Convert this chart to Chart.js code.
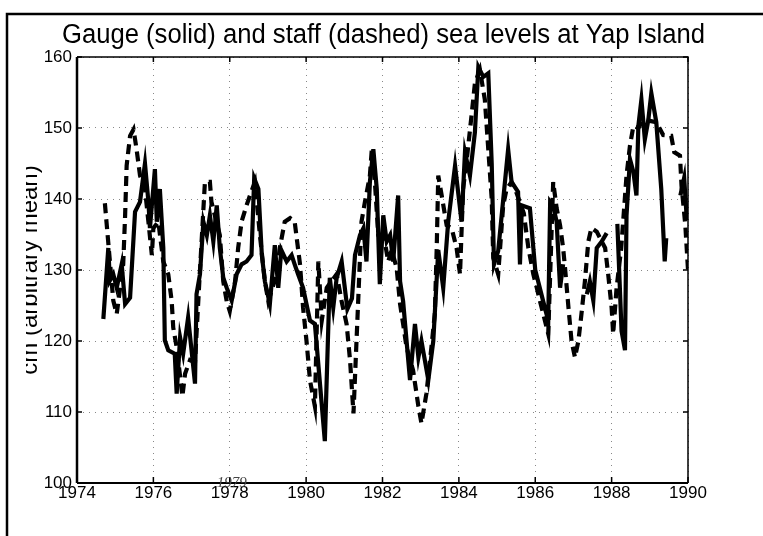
<!DOCTYPE html>
<html>
<head>
<meta charset="utf-8">
<script src="https://cdn.jsdelivr.net/npm/chart.js@4.4.1/dist/chart.umd.min.js"></script>
<style>
  html, body { margin: 0; padding: 0; background: #fff; }
  #wrap { width: 763px; height: 536px; position: relative; }
</style>
</head>
<body>
<div id="wrap"><canvas id="c"></canvas></div>
<script>
// ---- Data (decimal years, cm) ----
const titleText = "Gauge (solid) and staff (dashed) sea levels at Yap Island";
const yAxisLabel = "cm (arbitrary mean)";
const xTickValues = [1974, 1976, 1978, 1980, 1982, 1984, 1986, 1988, 1990];
const yTickValues = [100, 110, 120, 130, 140, 150, 160];

// Gauge (solid line); null marks a gap in the record
const gaugeYears = [
  1974.69, 1974.82, 1974.86, 1974.95, 1975.04, 1975.17, 1975.26, 1975.39, 1975.52, 1975.65,
  1975.78, 1975.87, 1975.91, 1976.04, 1976.09, 1976.17, 1976.26, 1976.30, 1976.39, 1976.56,
  1976.61, 1976.70, 1976.78, 1976.91, 1977.09, 1977.13, 1977.22, 1977.31, 1977.40, 1977.48,
  1977.57, 1977.66, 1977.74, 1977.83, 1977.92, 1978.05, 1978.18, 1978.31, 1978.44, 1978.57,
  1978.64, 1978.75, 1978.84, 1978.92, 1979.05, 1979.18, 1979.27, 1979.35, 1979.49, 1979.62,
  1979.70, 1979.79, 1979.92, 1980.10, 1980.23, 1980.49, 1980.62, 1980.71, 1980.80, 1980.93,
  1981.08, 1981.20, 1981.28, 1981.41, 1981.50, 1981.58, 1981.67, 1981.76, 1981.85, 1981.93,
  1982.02, 1982.11, 1982.20, 1982.28, 1982.41, 1982.46, 1982.54, 1982.63, 1982.72, 1982.85,
  1982.94, 1983.02, 1983.20, 1983.33, 1983.46, 1983.59, 1983.72, 1983.90, 1984.07, 1984.16,
  1984.29, 1984.42, 1984.51, 1984.64, 1984.77, 1984.86, 1984.92, 1985.03, 1985.29, 1985.38,
  1985.55, 1985.60, 1985.65, 1985.86, 1986.00, 1986.25, 1986.34, 1986.39, 1986.47, 1986.56,
  1986.65, 1986.73, 1987.00, 1987.35, 1987.43, 1987.52, 1987.61, 1987.74, 1987.87, 1988.00,
  1988.15, 1988.26, 1988.35, 1988.39, 1988.48, 1988.57, 1988.65, 1988.70, 1988.78, 1988.87,
  1988.96, 1989.04, 1989.17, 1989.30, 1989.39, 1989.43, 1989.60, 1989.80, 1989.90, 1989.97
];
const gaugeValues = [
  123.1, 133.1, 128.5, 129.4, 127.5, 130.8, 125.2, 126.1, 138.2, 139.6,
  145.0, 139.6, 135.9, 144.2, 136.8, 141.4, 133.1, 120.1, 118.7, 118.2,
  112.6, 120.5, 118.2, 123.3, 114.0, 126.6, 129.4, 136.8, 134.9, 137.7,
  134.0, 139.1, 133.1, 128.9, 127.5, 125.7, 129.4, 130.8, 131.2, 132.1,
  142.9, 141.4, 132.1, 128.4, 125.2, 133.5, 127.5, 132.8, 131.2, 132.1,
  130.8, 129.4, 127.5, 122.9, 122.4, 105.9, 128.9, 124.7, 128.9, 131.2,
  124.5, 126.0, 132.1, 134.9, 135.9, 131.2, 142.4, 147.0, 141.4, 128.0,
  137.7, 134.0, 134.9, 131.2, 140.5, 128.4, 125.6, 120.0, 114.5, 122.4,
  117.7, 120.0, 114.5, 120.0, 132.8, 127.5, 136.8, 144.7, 136.8, 146.6,
  143.3, 149.4, 158.6, 157.2, 157.7, 145.0, 130.8, 132.7, 147.0, 142.4,
  141.0, 130.8, 139.1, 138.7, 130.0, 124.7, 122.9, 139.6, 139.0, 136.8,
  127.5, 130.8, null,  126.6, 128.4, 125.7, 133.1, 134.0, 135.2, null,
  136.5, 121.4, 118.7, 137.7, 145.6, 143.8, 140.5, 150.3, 154.0, 148.4,
  151.1, 154.9, 150.8, 141.4, 131.2, 134.5, null,  140.5, 143.0, 137.0
];

// Staff (dashed line)
const staffYears = [
  1974.73, 1974.86, 1974.95, 1975.04, 1975.21, 1975.26, 1975.30, 1975.39, 1975.48, 1975.56,
  1975.65, 1975.78, 1975.87, 1975.96, 1976.00, 1976.13, 1976.26, 1976.39, 1976.48, 1976.52,
  1976.61, 1976.70, 1976.76, 1976.83, 1976.96, 1977.09, 1977.20, 1977.35, 1977.48, 1977.52,
  1977.74, 1977.83, 1977.92, 1978.00, 1978.14, 1978.22, 1978.31, 1978.44, 1978.53, 1978.66,
  1978.79, 1978.92, 1979.01, 1979.23, 1979.31, 1979.44, 1979.58, 1979.70, 1979.84, 1979.92,
  1980.01, 1980.10, 1980.23, 1980.32, 1980.41, 1980.54, 1980.80, 1980.93, 1981.06, 1981.15,
  1981.24, 1981.45, 1981.54, 1981.67, 1981.72, 1981.80, 1981.89, 1982.06, 1982.15, 1982.24,
  1982.37, 1982.46, 1982.54, 1982.63, 1982.80, 1982.94, 1983.02, 1983.15, 1983.28, 1983.37,
  1983.42, 1983.46, 1983.55, 1983.68, 1983.81, 1983.94, 1984.03, 1984.11, 1984.20, 1984.33,
  1984.42, 1984.55, 1984.68, 1984.77, 1984.86, 1984.90, 1985.03, 1985.16, 1985.25, 1985.38,
  1985.50, 1985.70, 1985.82, 1985.95, 1986.04, 1986.12, 1986.21, 1986.34, 1986.47, 1986.56,
  1986.65, 1986.73, 1986.78, 1986.87, 1986.95, 1987.04, 1987.13, 1987.21, 1987.30, 1987.39,
  1987.47, 1987.61, 1987.83, 1987.91, 1988.00, 1988.04, 1988.13, 1988.25, 1988.39, 1988.48,
  1988.57, 1988.70, 1988.83, 1989.00, 1989.17, 1989.35, 1989.56, 1989.64, 1989.79, 1989.83,
  1989.93, 1990.00
];
const staffValues = [
  139.4, 131.3, 125.7, 123.8, 130.8, 137.7, 144.7, 148.9, 149.8, 147.0,
  143.3, 141.4, 136.8, 132.1, 135.9, 136.8, 131.2, 129.4, 125.6, 121.9,
  119.1, 115.0, 112.2, 115.4, 117.3, 117.0, 128.0, 142.4, 142.4, 139.6,
  134.9, 128.4, 125.6, 124.2, 128.4, 133.1, 136.8, 139.1, 140.5, 142.4,
  134.9, 128.4, 125.6, 129.4, 133.1, 136.8, 137.3, 136.8, 130.8, 124.7,
  120.0, 114.5, 110.8, 131.2, 122.9, 127.5, 129.4, 125.6, 122.4, 117.3,
  109.8, 136.8, 139.6, 143.3, 147.0, 142.4, 134.9, 134.0, 131.2, 132.8,
  130.3, 125.2, 122.4, 119.1, 115.9, 110.8, 108.4, 112.6, 119.1, 123.8,
  133.1, 143.3, 140.5, 136.3, 135.9, 133.1, 129.4, 141.4, 145.2, 151.7,
  156.3, 158.2, 154.0, 147.0, 140.0, 131.7, 129.4, 139.1, 141.4, 142.4,
  141.0, 138.0, 133.1, 129.4, 127.5, 125.7, 123.8, 121.0, 142.4, 138.7,
  136.3, 133.1, 130.3, 124.7, 120.0, 117.7, 120.0, 123.8, 128.4, 134.0,
  135.9, 135.4, 133.1, 129.4, 124.7, 121.0, 127.5, 133.0, 143.3, 147.5,
  150.3, 150.0, 151.2, 151.0, 150.8, 149.0, 148.9, 146.6, 146.1, 141.9,
  136.3, 130.0
];

const toPoints = (xs, ys) => xs.map((x, i) => ({ x: x, y: ys[i] }));

const PLOT = { left: 77, right: 688, top: 57, bottom: 483 };
const W = 763, H = 536;

const decorPlugin = {
  id: 'decor',
  beforeDraw(chart) {
    const ctx = chart.ctx;
    ctx.save();
    ctx.fillStyle = '#fff';
    ctx.fillRect(0, 0, W, H);
    ctx.restore();
  },
  afterDraw(chart) {
    const ctx = chart.ctx;
    const ca = chart.chartArea;
    const xs = chart.scales.x, ys = chart.scales.y;
    ctx.save();
    // outer frame (left + top)
    ctx.strokeStyle = '#000';
    ctx.lineWidth = 2.5;
    ctx.beginPath();
    ctx.moveTo(7, H);
    ctx.lineTo(7, 14);
    ctx.lineTo(W, 14);
    ctx.stroke();

    // plot box
    ctx.lineWidth = 1.5;
    ctx.beginPath();
    ctx.moveTo(ca.left, ca.top);
    ctx.lineTo(ca.right, ca.top);
    ctx.lineTo(ca.right, ca.bottom);
    ctx.stroke();
    ctx.lineWidth = 2.5;
    ctx.beginPath();
    ctx.moveTo(ca.left, ca.top);
    ctx.lineTo(ca.left, ca.bottom);
    ctx.stroke();
    ctx.lineWidth = 1.8;
    ctx.beginPath();
    ctx.moveTo(ca.left, ca.bottom);
    ctx.lineTo(ca.right, ca.bottom);
    ctx.stroke();

    // inward tick marks
    ctx.lineWidth = 1.5;
    ctx.beginPath();
    yTickValues.forEach(v => {
      const py = ys.getPixelForValue(v);
      ctx.moveTo(ca.left, py); ctx.lineTo(ca.left + 5, py);
      ctx.moveTo(ca.right, py); ctx.lineTo(ca.right - 5, py);
    });
    xTickValues.forEach(v => {
      const px = xs.getPixelForValue(v);
      ctx.moveTo(px, ca.bottom); ctx.lineTo(px, ca.bottom - 6);
      ctx.moveTo(px, ca.top); ctx.lineTo(px, ca.top + 5);
    });
    ctx.stroke();

    // title
    ctx.fillStyle = '#000';
    ctx.font = '27px "Liberation Sans", Arial, sans-serif';
    ctx.textAlign = 'left';
    ctx.textBaseline = 'alphabetic';
    const tw = ctx.measureText(titleText).width;
    const target = 643;
    const sx = target / tw;
    ctx.save();
    ctx.translate(62, 43);
    ctx.scale(sx, 1);
    ctx.fillText(titleText, 0, 0);
    ctx.restore();

    // y-axis label (rotated, left part clipped as in the scan)
    ctx.save();
    ctx.beginPath();
    ctx.rect(26, 0, 60, H);
    ctx.clip();
    ctx.translate(37, 270);
    ctx.rotate(-Math.PI / 2);
    ctx.font = '24px "Liberation Sans", Arial, sans-serif';
    ctx.textAlign = 'center';
    ctx.textBaseline = 'alphabetic';
    ctx.fillText(yAxisLabel, 0, 0);
    ctx.restore();

    // faint overprinted label from the scan above 1978
    ctx.font = 'italic 15px "Liberation Serif", serif';
    ctx.fillStyle = '#444';
    ctx.textAlign = 'center';
    ctx.textBaseline = 'middle';
    ctx.fillText('1979', xs.getPixelForValue(1978) + 2, 483);
    ctx.restore();
  }
};

new Chart(document.getElementById('c'), {
  type: 'line',
  data: {
    datasets: [
      {
        label: 'Gauge',
        data: toPoints(gaugeYears, gaugeValues),
        borderColor: '#000',
        borderWidth: 4.2,
        pointRadius: 0,
        tension: 0,
        spanGaps: false,
        fill: false
      },
      {
        label: 'Staff',
        data: toPoints(staffYears, staffValues),
        borderColor: '#000',
        borderWidth: 4.2,
        borderDash: [10, 6],
        pointRadius: 0,
        tension: 0,
        spanGaps: false,
        fill: false
      }
    ]
  },
  options: {
    responsive: true,
    maintainAspectRatio: false,
    animation: false,
    events: [],
    layout: { padding: { left: 0, top: PLOT.top, right: W - PLOT.right, bottom: 0 } },
    plugins: {
      legend: { display: false },
      title: { display: false },
      tooltip: { enabled: false }
    },
    scales: {
      x: {
        type: 'linear',
        min: 1974,
        max: 1990,
        afterFit(scale) { scale.height = H - PLOT.bottom; },
        afterBuildTicks(scale) { scale.ticks = xTickValues.map(v => ({ value: v })); },
        ticks: {
          color: '#000',
          font: { family: '"Liberation Sans", Arial, sans-serif', size: 17 },
          padding: 0,
          maxRotation: 0,
          autoSkip: false,
          callback: v => String(v)
        },
        grid: {
          color: '#888',
          lineWidth: 1,
          drawTicks: false
        },
        border: { display: false, dash: [1, 5] }
      },
      y: {
        type: 'linear',
        min: 100,
        max: 160,
        afterFit(scale) { scale.width = PLOT.left; },
        afterBuildTicks(scale) { scale.ticks = yTickValues.map(v => ({ value: v })); },
        ticks: {
          color: '#000',
          font: { family: '"Liberation Sans", Arial, sans-serif', size: 17 },
          padding: 5,
          autoSkip: false
        },
        grid: {
          color: '#888',
          lineWidth: 1,
          drawTicks: false
        },
        border: { display: false, dash: [1, 5] }
      }
    }
  },
  plugins: [decorPlugin]
});
</script>
</body>
</html>
